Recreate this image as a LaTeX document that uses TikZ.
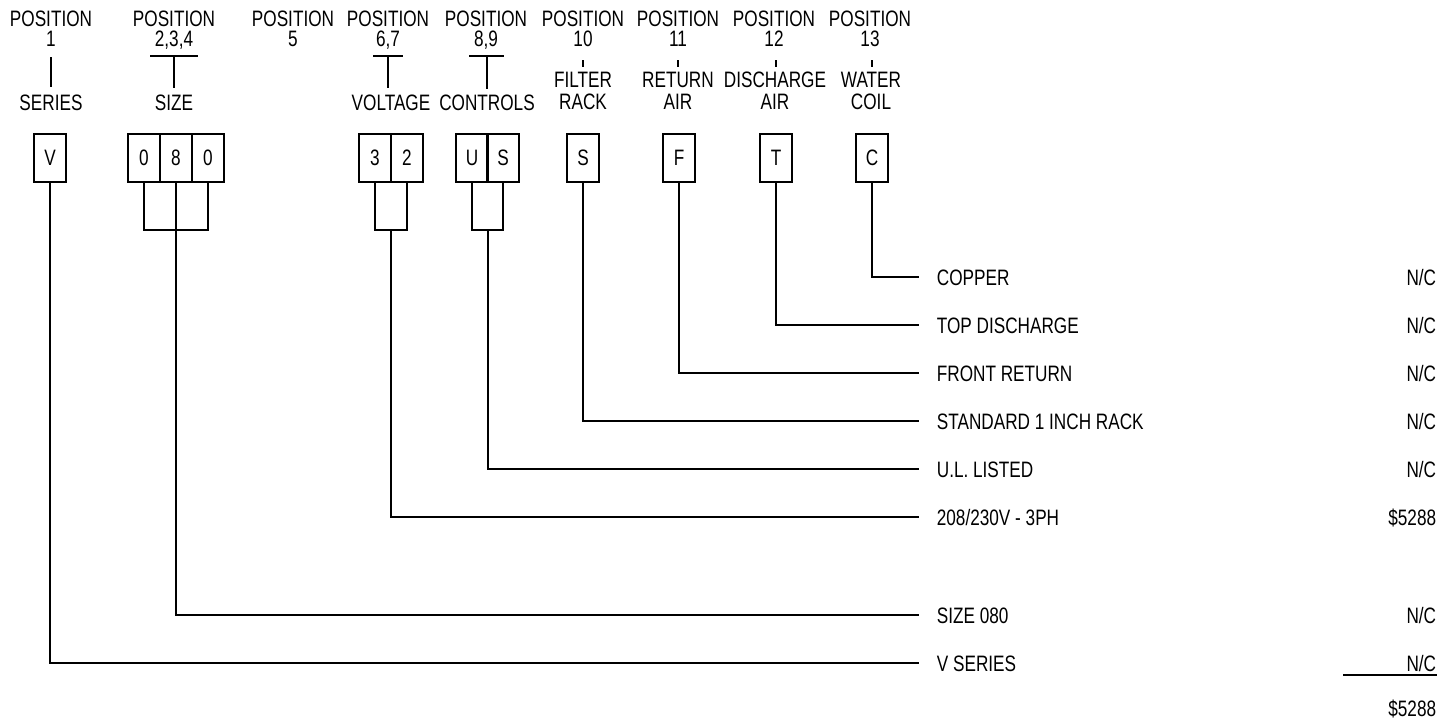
\documentclass[tikz,border=0pt]{standalone}
\usepackage{fontspec}
\setmainfont[FakeStretch=0.77]{Liberation Sans}
\begin{document}
\begin{tikzpicture}[x=0.02cm,y=-0.02cm, line width=1pt,
  every node/.style={font=\fontsize{12.7pt}{15pt}\selectfont, inner sep=0pt},
  cell/.style={draw, line width=1pt, minimum width=6.3mm, minimum height=9.6mm, inner sep=0pt},
  hdr/.style={anchor=base},
  lbl/.style={anchor=base west},
  val/.style={anchor=base east}]
\useasboundingbox (0,0) rectangle (1444,718);

% ---- headers
\node[hdr] (p1) at (51,26) {POSITION};   \node[hdr] (n1) at (51,46) {1};
\node[hdr] (p2) at (174,26) {POSITION};  \node[hdr] (n2) at (174,46) {2,3,4};
\node[hdr] (p5) at (293,26) {POSITION};  \node[hdr] (n5) at (293,46) {5};
\node[hdr] (p6) at (388,26) {POSITION};  \node[hdr] (n6) at (388,46) {6,7};
\node[hdr] (p8) at (486,26) {POSITION};  \node[hdr] (n8) at (486,46) {8,9};
\node[hdr] (p10) at (583,26) {POSITION}; \node[hdr] (n10) at (583,46) {10};
\node[hdr] (p11) at (678,26) {POSITION}; \node[hdr] (n11) at (678,46) {11};
\node[hdr] (p12) at (774,26) {POSITION}; \node[hdr] (n12) at (774,46) {12};
\node[hdr] (p13) at (870,26) {POSITION}; \node[hdr] (n13) at (870,46) {13};

% ---- header marks
\draw (51,57) -- (51,87);
\draw (150,56) -- (198,56); \draw (174,56) -- (174,88);
\draw (373,56) -- (403,56); \draw (388,56) -- (388,88);
\draw (469,56) -- (504,56); \draw (487,56) -- (487,89);
\draw (583,60) -- (583,67);
\draw (678,60) -- (678,67);
\draw (776,60) -- (776,67);
\draw (872,60) -- (872,67);

% ---- field names
\node[hdr] (f1) at (51,110) {SERIES};
\node[hdr] (f2) at (174,110) {SIZE};
\node[hdr] (f6) at (391,110) {VOLTAGE};
\node[hdr] (f8) at (487,110) {CONTROLS};
\node[hdr] (f10a) at (583,87) {FILTER};   \node[hdr] (f10b) at (583,109) {RACK};
\node[hdr] (f11a) at (678,87) {RETURN};   \node[hdr] (f11b) at (678,109) {AIR};
\node[hdr] (f12a) at (775,87) {DISCHARGE};\node[hdr] (f12b) at (775,109) {AIR};
\node[hdr] (f13a) at (871,87) {WATER};    \node[hdr] (f13b) at (871,109) {COIL};

% ---- code boxes
\node[cell] (bv) at (50,158) {V};
\node[cell,minimum width=6.4mm] (z1) at (144,158) {0};
\node[cell,minimum width=6.4mm] (z2) at (176,158) {8};
\node[cell,minimum width=6.4mm] (z3) at (208,158) {0};
\node[cell,minimum width=6.4mm] (t3) at (375,158) {3};
\node[cell,minimum width=6.4mm] (t2) at (407,158) {2};
\node[cell] (cu) at (472,158) {U};
\node[cell] (cs) at (503,158) {S};
\node[cell] (bs) at (583,158) {S};
\node[cell] (bf) at (679,158) {F};
\node[cell] (bt) at (776,158) {T};
\node[cell] (bc) at (872,158) {C};

% ---- brackets
\coordinate (m080) at (176,230);
\coordinate (m32) at (391,230);
\coordinate (mus) at (488,230);
\draw (z1.south) -- (z1.south |- m080) -- (z3.south |- m080) -- (z3.south);
\draw (t3.south) -- (t3.south |- m32) -- (t2.south |- m32) -- (t2.south);
\draw (cu.south) -- (cu.south |- mus) -- (cs.south |- mus) -- (cs.south);

% ---- line ends
\coordinate (ec) at (919,277);
\coordinate (et) at (919,325);
\coordinate (ef) at (919,373);
\coordinate (es) at (919,421);
\coordinate (eu) at (919,469);
\coordinate (e2) at (919,517);
\coordinate (ez) at (919,615);
\coordinate (ev) at (919,663);

% ---- connectors
\draw (bc.south) |- (ec);
\draw (bt.south) |- (et);
\draw (bf.south) |- (ef);
\draw (bs.south) |- (es);
\draw (mus) |- (eu);
\draw (m32) |- (e2);
\draw (z2.south) |- (ez);
\draw (bv.south) |- (ev);

% ---- option labels
\node[lbl] (lc) at (936,285) {COPPER};
\node[lbl] (lt) at (936,333) {TOP DISCHARGE};
\node[lbl] (lf) at (936,381) {FRONT RETURN};
\node[lbl] (ls) at (936,429) {STANDARD 1 INCH RACK};
\node[lbl] (lu) at (936,477) {U.L. LISTED};
\node[lbl] (l2) at (936,525) {208/230V - 3PH};
\node[lbl] (lz) at (936,623) {SIZE 080};
\node[lbl] (lv) at (936,671) {V SERIES};

% ---- prices
\node[val] (vc) at (1437,285) {N/C};
\node[val] (vt) at (1437,333) {N/C};
\node[val] (vf) at (1437,381) {N/C};
\node[val] (vs) at (1437,429) {N/C};
\node[val] (vu) at (1437,477) {N/C};
\node[val] (v2) at (1437,525) {\$5288};
\node[val] (vz) at (1437,623) {N/C};
\node[val] (vv) at (1437,671) {N/C};
\draw (1343,675) -- (1437,675);
\node[val] (tot) at (1437,716) {\$5288};
\end{tikzpicture}
\end{document}
